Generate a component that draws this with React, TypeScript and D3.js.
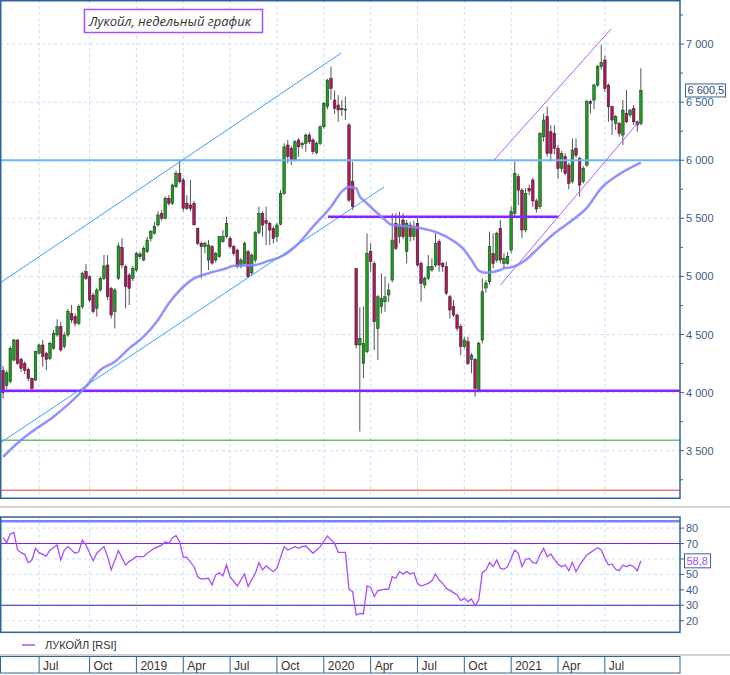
import { useEffect } from 'react';
import * as d3 from 'd3';

// weekly bars, first bar = week of 23 Apr 2018
const opens = [
  4190, 4060, 4094, 4280, 4453, 4286, 4250, 4200, 4123, 4108, 4338, 4410, 4338, 4295, 4381, 4496, 4567, 4395, 4496, 4682,
  4654, 4596, 4740, 5041, 4997, 4840, 4725, 4883, 4983, 5098, 4897, 4697, 4983, 5250, 5084, 5012, 4983, 5055, 5193, 5141,
  5213, 5328, 5371, 5443, 5543, 5500, 5672, 5629, 5772, 5887, 5830, 5629, 5615, 5629, 5413, 5285, 5256, 5141, 5256, 5141,
  5170, 5299, 5342, 5328, 5256, 5227, 5098, 5112, 5213, 5030, 5141, 5376, 5543, 5480, 5457, 5413, 5342, 5450, 5715, 6131,
  6102, 6002, 6174, 6131, 6145, 6217, 6174, 6065, 6145, 6288, 6461, 6704, 6518, 6475, 6446, 6432, 6303, 5815, 5069, 4410,
  4252, 4352, 5213, 5112, 4553, 4739, 4782, 4840, 4969, 5457, 5342, 5485, 5213, 5442, 5342, 5457, 5112, 4926, 4983, 5055,
  5098, 5299, 5112, 5084, 4825, 4739, 4668, 4570, 4395, 4438, 4286, 4286, 4016, 4453, 4900, 4954, 5198, 5141, 5413, 5112,
  5113, 5227, 5540, 5858, 5743, 5400, 5758, 5830, 5650, 5600, 6202, 6375, 6245, 6231, 6102, 5930, 6030, 5958, 5815, 6102,
  6016, 5815, 5958, 6504, 6518, 6647, 6805, 6862, 6647, 6461, 6317, 6317, 6217, 6403, 6389, 6446, 6331, 6317,
];
const highs = [
  4230, 4190, 4400, 4460, 4460, 4300, 4270, 4215, 4130, 4360, 4420, 4453, 4350, 4440, 4540, 4631, 4610, 4520, 4720, 4754,
  4680, 4760, 5040, 5107, 5010, 4860, 4900, 5000, 5184, 5184, 4910, 4900, 5290, 5328, 5100, 5030, 5090, 5213, 5213, 5260,
  5340, 5400, 5470, 5560, 5570, 5690, 5700, 5800, 5910, 6002, 5850, 5700, 5830, 5650, 5420, 5300, 5300, 5313, 5270, 5210,
  5350, 5399, 5514, 5345, 5270, 5240, 5160, 5300, 5230, 5200, 5390, 5600, 5560, 5600, 5470, 5430, 5460, 5743, 6145, 6174,
  6120, 6174, 6188, 6160, 6231, 6240, 6190, 6160, 6300, 6500, 6700, 6805, 6600, 6560, 6520, 6547, 6320, 5987, 5069, 4734,
  4739, 5370, 5285, 5130, 4840, 5026, 4998, 4940, 5543, 5543, 5557, 5543, 5485, 5470, 5480, 5500, 5130, 5000, 5184, 5155,
  5371, 5320, 5127, 5127, 4840, 4797, 4680, 4590, 4481, 4481, 4340, 4300, 4440, 4983, 4969, 5385, 5370, 5385, 5485, 5200,
  5210, 5600, 5990, 5880, 5760, 5760, 5790, 5850, 5670, 6240, 6400, 6460, 6300, 6300, 6130, 6080, 6060, 5980, 6188, 6188,
  6030, 5950, 6520, 6520, 6660, 6820, 6991, 6900, 6660, 6470, 6390, 6330, 6518, 6604, 6440, 6475, 6340, 6791,
];
const lows = [
  3950, 4030, 4080, 4270, 4240, 4180, 4160, 4100, 4017, 4100, 4330, 4223, 4195, 4280, 4370, 4480, 4352, 4380, 4480, 4600,
  4570, 4580, 4720, 4969, 4780, 4682, 4654, 4870, 4970, 4797, 4639, 4553, 4970, 5069, 4725, 4754, 4960, 5040, 5150, 5130,
  5200, 5300, 5360, 5430, 5480, 5490, 5610, 5615, 5760, 5800, 5560, 5572, 5560, 5440, 5270, 4983, 5200, 5055, 5100, 5120,
  5160, 5290, 5330, 5240, 5180, 5069, 5070, 5100, 4983, 5012, 5120, 5360, 5342, 5270, 5270, 5284, 5299, 5440, 5700, 5973,
  5959, 5990, 6030, 6100, 6073, 6140, 6050, 6050, 6130, 6270, 6440, 6520, 6400, 6330, 6380, 6346, 5640, 5571, 4380, 3664,
  4123, 4340, 5041, 4366, 4280, 4682, 4696, 4782, 4950, 5227, 5285, 5320, 5112, 5300, 5310, 5084, 4782, 4897, 4970, 5040,
  5080, 5041, 5041, 4840, 4639, 4650, 4530, 4323, 4381, 4237, 4166, 3965, 4000, 4424, 4860, 4930, 5070, 5120, 5112, 5080,
  5100, 5200, 5514, 5614, 5330, 5380, 5700, 5600, 5550, 5580, 6160, 6030, 5990, 6050, 5840, 5900, 5870, 5750, 5800, 6020,
  5686, 5800, 5944, 6403, 6440, 6630, 6780, 6590, 6331, 6217, 6260, 6202, 6131, 6320, 6370, 6303, 6245, 6300,
];
const closes = [
  4000, 4170, 4381, 4453, 4252, 4209, 4190, 4123, 4037, 4352, 4410, 4309, 4286, 4424, 4510, 4567, 4367, 4496, 4697, 4625,
  4596, 4740, 5026, 4983, 4797, 4697, 4883, 4983, 5090, 4826, 4668, 4883, 5262, 5098, 4912, 4897, 5069, 5199, 5170, 5242,
  5313, 5385, 5428, 5529, 5500, 5672, 5629, 5787, 5887, 5815, 5586, 5586, 5586, 5443, 5285, 5256, 5285, 5270, 5115, 5199,
  5342, 5342, 5457, 5256, 5199, 5084, 5141, 5284, 4997, 5184, 5376, 5543, 5442, 5457, 5399, 5327, 5442, 5715, 6116, 6030,
  6002, 6159, 6116, 6145, 6217, 6159, 6073, 6145, 6288, 6489, 6690, 6618, 6446, 6432, 6435, 6440, 5657, 5600, 4410, 4467,
  4424, 5198, 5127, 4610, 4825, 4811, 4825, 4883, 5313, 5241, 5442, 5342, 5457, 5342, 5428, 5098, 4940, 4983, 5084, 5084,
  5285, 5098, 5084, 4854, 4711, 4668, 4553, 4395, 4453, 4252, 4323, 4036, 4424, 4868, 4943, 5256, 5112, 5370, 5141, 5155,
  5170, 5557, 5887, 5743, 5400, 5715, 5735, 5650, 5580, 6231, 6346, 6059, 6059, 6102, 5930, 6059, 5887, 5801, 6088, 6044,
  5786, 5930, 6504, 6489, 6647, 6805, 6842, 6618, 6460, 6346, 6375, 6231, 6432, 6331, 6432, 6331, 6303, 6600.5,
];

// 20-week average, read at selected bars
const maBars = [0, 5, 8, 14, 22, 27, 31, 35, 39, 43, 46, 50, 53, 57, 62, 64, 70, 73, 78, 82, 86, 91, 94, 96, 98, 99, 100,
  105, 108, 113, 116, 121, 123, 128, 130, 132, 134, 138, 139, 141, 145, 148, 153, 158, 162, 166, 171, 177];
const maValues = [3448, 3592, 3664, 3793, 4016, 4195, 4266, 4381, 4481, 4625, 4769, 4911, 4983, 5027, 5070, 5092, 5098,
  5127, 5184, 5285, 5428, 5600, 5729, 5772, 5758, 5686, 5657, 5514, 5442, 5428, 5414, 5371, 5342, 5227, 5141, 5050, 5032,
  5055, 5070, 5078, 5141, 5227, 5371, 5485, 5590, 5760, 5880, 5980];

// RSI, read at selected bars
const rsiBars = [0, 1, 2, 3, 4, 5, 6, 7, 8, 9, 10, 12, 13, 15, 16, 17, 18, 20, 21, 22, 23, 25, 26, 28, 29, 30, 32, 34, 35,
  37, 39, 40, 42, 44, 45, 46, 47, 48, 49, 50, 51, 53, 54, 55, 57, 58, 59, 60, 61, 62, 63, 65, 66, 67, 68, 70, 71, 72, 73,
  75, 76, 78, 79, 81, 82, 83, 84, 86, 88, 90, 92, 93, 95, 96, 97, 98, 99, 100, 101, 102, 103, 104, 106, 107, 108, 109, 110,
  111, 112, 113, 114, 115, 116, 118, 119, 120, 121, 122, 123, 125, 126, 127, 128, 129, 130, 131, 132, 133, 134, 135, 136,
  137, 138, 139, 140, 141, 142, 143, 144, 145, 146, 147, 148, 149, 150, 151, 152, 153, 154, 155, 156, 157, 158, 159, 160,
  162, 163, 164, 165, 166, 167, 168, 169, 170, 171, 172, 173, 174, 175, 176, 177];
const rsiValues = [73.8, 70.6, 76.2, 77.2, 66, 64.1, 63, 57.6, 59.3, 66.9, 64.1, 61.9, 65.8, 69, 59.3, 65.8, 68, 63.7, 64.7,
  72.3, 69, 58.9, 63.7, 68, 61.5, 52.9, 65.4, 56.1, 58.3, 61.5, 61.5, 63.7, 66.9, 69, 71.2, 70.1, 73.8, 75.1, 71.2, 61.1,
  61.1, 55, 48.5, 47, 47.5, 43.2, 49.6, 51.1, 49, 56.1, 48.5, 42.5, 46.4, 50.3, 42.1, 50.7, 57.6, 52.9, 55.5, 51.8, 54, 68,
  65.8, 68, 66.9, 68, 68.4, 63.7, 68, 74.9, 70.1, 64.3, 64.3, 40.4, 38.8, 23.7, 24.8, 24.4, 42.5, 41.6, 35.6, 39.5, 40.4,
  40.4, 48.5, 47.5, 51.8, 50.3, 51.8, 50.3, 51.1, 44.2, 42.5, 44.2, 45.9, 50.3, 46.4, 44.2, 41, 38.2, 36.7, 33, 34.5, 32.4,
  34.1, 29.6, 33.5, 51.1, 52.9, 57.6, 55, 59.3, 54, 53.3, 55, 60.4, 65.8, 63.7, 55, 59.8, 60.4, 57.6, 57.2, 62.6, 66.9,
  61.5, 63.2, 59.8, 56.8, 55, 56.1, 52.4, 57.8, 51.8, 56.1, 62.6, 64.1, 65.8, 67.3, 65.8, 60.4, 56.1, 56.8, 53.3, 52.4,
  56.1, 55, 56.1, 55, 52.4, 58.8];

// drawn levels and trend lines
const resistanceLevel = 6000;
const supportLevel = 4016;
const greenLevel = 3590;
const redLevel = 3160;
const blueUpper: [string, number][] = [['2018-04-17', 4943], ['2020-02-09', 6923]];
const blueLower: [string, number][] = [['2018-04-17', 3566], ['2020-05-02', 5769]];
const violetBase: [string, number][] = [['2020-01-14', 5514], ['2021-04-06', 5514]];
const violetUpper: [string, number][] = [['2020-11-30', 5993], ['2021-07-17', 7129]];
const violetLower: [string, number][] = [['2020-12-14', 4926], ['2021-09-10', 6337]];

const tickDates = ['2018-07-02', '2018-10-08', '2019-01-07', '2019-04-08', '2019-07-08', '2019-10-07', '2020-01-06',
  '2020-04-06', '2020-07-06', '2020-10-05', '2021-01-04', '2021-04-05', '2021-07-05'];
const tickLabels = ['Jul', 'Oct', '2019', 'Apr', 'Jul', 'Oct', '2020', 'Apr', 'Jul', 'Oct', '2021', 'Apr', 'Jul'];
const priceTicks = [3500, 4000, 4500, 5000, 5500, 6000, 6500, 7000];
const priceMinorTicks = [3250, 3750, 4250, 4750, 5250, 5750, 6250, 6750, 7250];
const rsiTicks = [20, 30, 40, 50, 60, 70, 80];
const rsiLabelled = [20, 30, 40, 50, 70, 80]; // 60 sits under the last-value box
const rsiOverbought = 70;
const rsiOversold = 30;
const rsiCeiling = 84.5;

const parse = d3.timeParse('%Y-%m-%d');
const ru = d3.formatLocale({ decimal: ',', thousands: '\u00a0', grouping: [3], currency: ['', ''] });

const GRID = '#c2dfff';
const FRAME = '#2f6496';
const AXIS_TXT = '#3d5d86';

export default function App() {
  useEffect(() => {
    document.body.style.margin = '0';
  }, []);

  const firstBar = new Date(2018, 3, 23);
  const barDates = closes.map((_, i) => d3.timeDay.offset(firstBar, 7 * i));

  const x = d3.scaleTime().domain([new Date(2018, 3, 17), new Date(2021, 10, 28)]).range([0, 680]);
  const y = d3.scaleLinear().domain([3093, 7379]).range([498, 0]);
  const yr = d3.scaleLinear().domain([12.5, 87]).range([632.3, 517.3]);

  const bx = (i: number) => x(barDates[i]);
  const seg = (pts: [string, number][]) =>
    d3.line<[string, number]>().x((d) => x(parse(d[0])!)).y((d) => y(d[1]))(pts) ?? '';

  const maPath =
    d3
      .line<number>()
      .x((b) => bx(b))
      .y((_, i) => y(maValues[i]))
      .curve(d3.curveMonotoneX)(maBars) ?? '';

  const rsiPath =
    d3
      .line<number>()
      .x((b) => bx(b))
      .y((_, i) => yr(rsiValues[i]))(rsiBars) ?? '';

  const ticksX = tickDates.map((d) => x(parse(d)!));
  const fmtPrice = ru.format(',');
  const last = closes[closes.length - 1];
  const lastRsi = rsiValues[rsiValues.length - 1];

  return (
    <svg
      width={730}
      height={675}
      style={{ display: 'block', background: '#fff' }}
      fontFamily="'Liberation Sans', Arial, sans-serif"
    >
      <defs>
        <clipPath id="mainClip">
          <rect x={1} y={1} width={679} height={497} />
        </clipPath>
        <clipPath id="rsiClip">
          <rect x={1} y={517} width={679} height={115} />
        </clipPath>
      </defs>

      {/* ---- main price panel ---- */}
      <g clipPath="url(#mainClip)">
        {priceTicks.map((p) => (
          <line key={p} x1={0} x2={680} y1={y(p)} y2={y(p)} stroke={GRID} strokeDasharray="3,3" />
        ))}
        {ticksX.map((tx, i) => (
          <line key={i} x1={tx} x2={tx} y1={0} y2={498} stroke={GRID} strokeDasharray="3,3" />
        ))}

        {closes.map((c, i) => {
          const o = opens[i];
          const cx = bx(i);
          const up = c >= o;
          const top = y(Math.max(o, c));
          const h = Math.max(1, Math.abs(y(o) - y(c)));
          return (
            <g key={i}>
              <line x1={cx} x2={cx} y1={y(highs[i])} y2={y(lows[i])} stroke="#555" strokeWidth={1} />
              <rect
                x={cx - 1.3}
                y={top}
                width={2.6}
                height={h}
                fill={up ? '#14a314' : '#b3145c'}
                stroke="#222"
                strokeWidth={0.5}
              />
            </g>
          );
        })}

        <line x1={0} x2={680} y1={y(redLevel)} y2={y(redLevel)} stroke="#e5392f" strokeWidth={1} />
        <line x1={0} x2={680} y1={y(greenLevel)} y2={y(greenLevel)} stroke="#6cbf6c" strokeWidth={1.5} />
        <line x1={0} x2={680} y1={y(supportLevel)} y2={y(supportLevel)} stroke="#8f1fff" strokeWidth={2.5} />
        <line x1={0} x2={680} y1={y(resistanceLevel)} y2={y(resistanceLevel)} stroke="#6cb4ff" strokeWidth={1.8} />
        <path d={seg(blueUpper)} stroke="#3d9cff" strokeWidth={1} fill="none" />
        <path d={seg(blueLower)} stroke="#3d9cff" strokeWidth={1} fill="none" />
        <path d={seg(violetBase)} stroke="#8f1fff" strokeWidth={2.5} fill="none" />
        <path d={seg(violetUpper)} stroke="#b060ff" strokeWidth={1} fill="none" />
        <path d={seg(violetLower)} stroke="#b060ff" strokeWidth={1} fill="none" />
        <path d={maPath} stroke="#8585ff" strokeWidth={2.5} fill="none" strokeOpacity={0.9} />
      </g>

      <rect x={0.75} y={0.75} width={679.25} height={497.5} fill="none" stroke={FRAME} strokeWidth={1.5} />

      {/* price axis */}
      {priceMinorTicks.map((p) => (
        <line key={p} x1={680} x2={683} y1={y(p)} y2={y(p)} stroke={FRAME} />
      ))}
      {priceTicks.map((p) => (
        <g key={p}>
          <line x1={680} x2={684} y1={y(p)} y2={y(p)} stroke={FRAME} />
          <text x={686} y={y(p) + 4} fontSize={11} fill={AXIS_TXT}>
            {fmtPrice(p)}
          </text>
        </g>
      ))}
      <rect x={685.5} y={y(last) - 6.5} width={40} height={13} fill="#fff" stroke={FRAME} strokeWidth={1} />
      <text x={687.5} y={y(last) + 4} fontSize={11} fill="#2a4a72">
        {ru.format(',.1f')(last)}
      </text>

      {/* title */}
      <rect x={84.5} y={9.5} width={178} height={23} fill="#fff" stroke="#a64dff" strokeWidth={1.5} />
      <text x={89} y={26} fontSize={13} fontStyle="italic" fill="#333" fontFamily="'Open Sans', 'DejaVu Sans', sans-serif">
        Лукойл, недельный график
      </text>

      {/* separators */}
      <line x1={0} x2={730} y1={507} y2={507} stroke="#c4c4c4" strokeWidth={1.5} />
      <line x1={0} x2={730} y1={655} y2={655} stroke="#c4c4c4" strokeWidth={1.5} />

      {/* ---- RSI panel ---- */}
      <g clipPath="url(#rsiClip)">
        {rsiTicks.map((v) => (
          <line key={v} x1={0} x2={680} y1={yr(v)} y2={yr(v)} stroke={GRID} strokeDasharray="3,3" />
        ))}
        {ticksX.map((tx, i) => (
          <line key={i} x1={tx} x2={tx} y1={517} y2={632} stroke={GRID} strokeDasharray="3,3" />
        ))}
        <line x1={0} x2={680} y1={yr(rsiCeiling)} y2={yr(rsiCeiling)} stroke="#8080ff" strokeWidth={2.5} />
        <line x1={0} x2={680} y1={yr(rsiOverbought)} y2={yr(rsiOverbought)} stroke="#7a22d6" strokeWidth={1} />
        <line x1={0} x2={680} y1={yr(rsiOversold)} y2={yr(rsiOversold)} stroke="#2b2bcc" strokeWidth={1} />
        <path d={rsiPath} stroke="#a64dff" strokeWidth={1.3} fill="none" />
      </g>
      <rect x={0.75} y={517} width={679.25} height={115.3} fill="none" stroke={FRAME} strokeWidth={1.5} />
      {rsiTicks.map((v) => (
        <line key={v} x1={680} x2={684} y1={yr(v)} y2={yr(v)} stroke={FRAME} />
      ))}
      {rsiLabelled.map((v) => (
        <text key={v} x={686} y={yr(v) + 4} fontSize={11} fill={AXIS_TXT}>
          {v}
        </text>
      ))}
      <rect x={684.5} y={yr(lastRsi) - 7} width={26} height={14} fill="#fff" stroke={FRAME} strokeWidth={1} />
      <text x={686.5} y={yr(lastRsi) + 4} fontSize={11} fill="#a64dff">
        {ru.format('.1f')(lastRsi)}
      </text>

      {/* legend */}
      <line x1={22} x2={35} y1={645} y2={645} stroke="#a64dff" strokeWidth={1.5} />
      <text x={45} y={649} fontSize={11} fill="#333">
        ЛУКОЙЛ [RSI]
      </text>

      {/* ---- time axis ---- */}
      <rect x={0.5} y={656.5} width={679.5} height={16.5} fill="#fff" stroke={FRAME} strokeWidth={1} />
      {ticksX.map((tx, i) => (
        <g key={i}>
          <line x1={tx} x2={tx} y1={656.5} y2={673} stroke={FRAME} strokeWidth={1} />
          <text x={tx + 4} y={669.5} fontSize={12} fill="#333">
            {tickLabels[i]}
          </text>
        </g>
      ))}
    </svg>
  );
}
